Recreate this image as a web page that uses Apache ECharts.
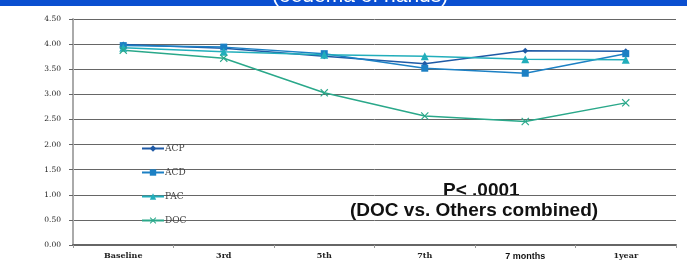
<!DOCTYPE html>
<html lang="en">
<head>
    <meta charset="UTF-8">
    <title>Oedema of hands</title>
    <script src="https://cdn.jsdelivr.net/npm/echarts@6/dist/echarts.min.js"></script>
    <style>
        html, body {
            margin: 0;
            padding: 0;
            background: #fff;
        }

        #chart {
            width: 687px;
            height: 264px;
        }
    </style>
</head>
<body>
<div id="chart"></div>
<script>
    const categories = ['Baseline', '3rd', '5th', '7th', '7 months', '1year'];
    const acp = [3.99, 3.92, 3.76, 3.61, 3.87, 3.86];
    const acd = [3.97, 3.94, 3.81, 3.52, 3.42, 3.81];
    const pac = [3.93, 3.85, 3.79, 3.76, 3.70, 3.69];
    const doc = [3.88, 3.72, 3.03, 2.57, 2.46, 2.83];
    const yTicks = ['0.00', '0.50', '1.00', '1.50', '2.00', '2.50', '3.00', '3.50', '4.00', '4.50'];

    const serif = '"DejaVu Serif", "Liberation Serif", serif';
    const cross = 'path://M0,1L1,0L5,4L9,0L10,1L6,5L10,9L9,10L5,6L1,10L0,9L4,5Z';

    function line(name, data, color, symbol, size) {
        return {
            name: name,
            type: 'line',
            data: data,
            symbol: symbol,
            symbolSize: size,
            lineStyle: {color: color, width: 1.5},
            itemStyle: {color: color},
            emphasis: {disabled: true}
        };
    }

    const chart = echarts.init(document.getElementById('chart'));
    chart.setOption({
        animation: false,
        grid: {left: 73, right: 11, top: 19, bottom: 19},
        legend: {
            orient: 'vertical',
            left: 136,
            top: 139,
            itemGap: 15,
            itemWidth: 22,
            itemHeight: 8,
            textStyle: {fontFamily: serif, fontSize: 9, color: '#444', padding: [0, 0, 0, -4]},
            data: ['ACP', 'ACD', 'PAC', 'DOC']
        },
        xAxis: {
            type: 'category',
            data: categories,
            axisLine: {lineStyle: {color: '#666', width: 2}},
            axisTick: {show: true, lineStyle: {color: '#999'}, length: 3},
            axisLabel: {
                margin: 7,
                fontSize: 8,
                fontWeight: 'bold',
                color: '#222',
                fontFamily: serif,
                rich: {
                    s: {fontFamily: 'Liberation Sans, Arial, sans-serif', fontSize: 9, fontWeight: 'bold', color: '#111'}
                },
                formatter: function (v) {
                    return v === '7 months' ? '{s|' + v + '}' : v;
                }
            }
        },
        yAxis: {
            type: 'value',
            min: 0,
            max: 4.5,
            interval: 0.5,
            axisLine: {show: true, lineStyle: {color: '#aaa', width: 2}},
            axisTick: {show: true, length: 4, lineStyle: {color: '#666'}},
            splitLine: {lineStyle: {color: '#666', width: 1}},
            axisLabel: {
                margin: 12,
                fontSize: 7.5,
                color: '#222',
                fontFamily: serif,
                formatter: function (v) {
                    return yTicks[Math.round(v / 0.5)];
                }
            }
        },
        series: [
            line('ACP', acp, '#1f5aa6', 'diamond', 6),
            line('ACD', acd, '#1c80c4', 'rect', 7),
            line('PAC', pac, '#22aebb', 'triangle', 8),
            line('DOC', doc, '#2aa88a', cross, 8)
        ],
        graphic: [
            {
                type: 'rect',
                left: 0,
                top: 0,
                shape: {width: 687, height: 6},
                style: {fill: '#0b4fd0'}
            },
            {
                type: 'text',
                left: 272,
                top: -14,
                style: {
                    text: '(oedema of hands)',
                    fill: '#fff',
                    font: '21px "Liberation Sans", Arial, sans-serif'
                }
            },
            {
                type: 'text',
                left: 443,
                top: 181,
                style: {
                    text: 'P< .0001',
                    fill: '#111',
                    font: 'bold 19px "Liberation Sans", Arial, sans-serif'
                }
            },
            {
                type: 'text',
                left: 350,
                top: 201,
                style: {
                    text: '(DOC vs. Others combined)',
                    fill: '#111',
                    font: 'bold 19px "Liberation Sans", Arial, sans-serif'
                }
            }
        ]
    });
</script>
</body>
</html>
